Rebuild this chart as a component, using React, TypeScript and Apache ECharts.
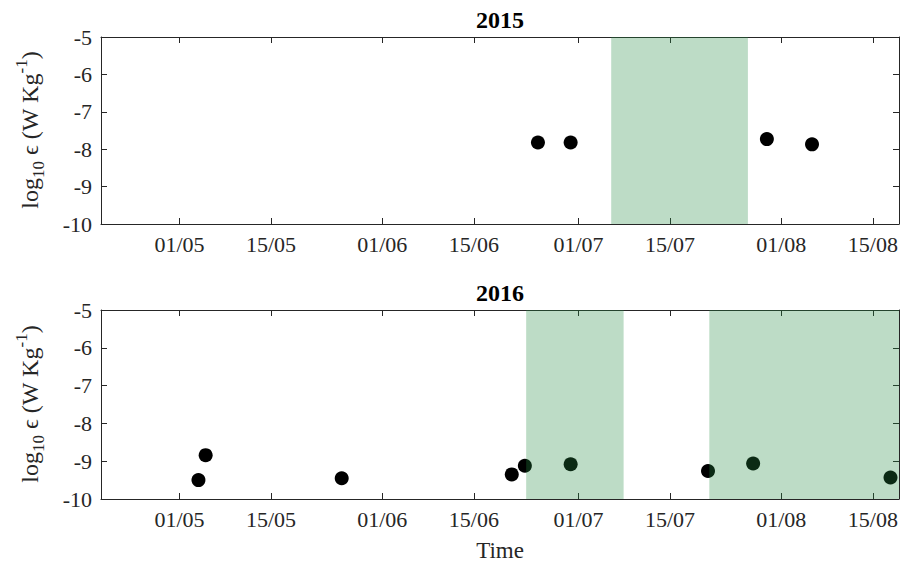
import React, { useEffect, useRef } from "react";
import * as echarts from "echarts";

// x values: days since 1 May of the given year
const xTickLabels = ["01/05", "15/05", "01/06", "15/06", "01/07", "15/07", "01/08", "15/08"];
const yTicks = [-10, -9, -8, -7, -6, -5];

const x2015 = [54.8, 59.8, 89.8, 96.7];
const y2015 = [-7.82, -7.82, -7.73, -7.87];
const shade2015 = [[66.0, 86.9]];

const x2016 = [2.9, 4.0, 24.8, 50.8, 52.8, 59.8, 80.8, 87.7, 108.7];
const y2016 = [-9.5, -8.84, -9.45, -9.35, -9.12, -9.08, -9.26, -9.06, -9.43];
const shade2016 = [[53.0, 67.9], [81.0, 112]];

const X_MIN = -12;
const X_MAX = 110;

const monthStart: Record<number, number> = { 5: 0, 6: 31, 7: 61, 8: 92 };
const labelToDay = (s: string) => {
  const [d, m] = s.split("/").map(Number);
  return monthStart[m] + d - 1;
};
const tickDays = xTickLabels.map(labelToDay);
const dayToLabel: Record<number, string> = {};
xTickLabels.forEach((l, i) => (dayToLabel[tickDays[i]] = l));

const FONT = '"Liberation Serif", "Times New Roman", serif';
const AX = "#262626";

export default function App() {
  const ref = useRef<HTMLDivElement>(null);
  useEffect(() => {
    if (!ref.current) return;
    const chart = echarts.init(ref.current, null, { renderer: "svg" });

    const grids = [
      { left: 101, top: 37, width: 798, height: 187 },
      { left: 101, top: 310, width: 798, height: 189 },
    ];

    const xAxes: any[] = [];
    const yAxes: any[] = [];
    grids.forEach((_, gi) => {
      ["bottom", "top"].forEach((pos) => {
        xAxes.push({
          type: "value",
          gridIndex: gi,
          position: pos,
          min: X_MIN,
          max: X_MAX,
          splitLine: { show: false },
          axisLine: { show: true, onZero: false, lineStyle: { color: AX, width: 1 } },
          axisTick: {
            show: true,
            inside: true,
            length: 6,
            customValues: tickDays,
            lineStyle: { color: AX },
          },
          axisLabel: {
            show: pos === "bottom",
            customValues: tickDays,
            formatter: (v: number) => dayToLabel[Math.round(v)] ?? "",
            color: AX,
            fontFamily: FONT,
            fontSize: 22,
            margin: 9,
          },
          ...(gi === 1 && pos === "bottom"
            ? {
                name: "Time",
                nameLocation: "middle",
                nameGap: 40,
                nameTextStyle: { color: AX, fontFamily: FONT, fontSize: 23 },
              }
            : {}),
        });
      });
      ["left", "right"].forEach((pos) => {
        yAxes.push({
          type: "value",
          gridIndex: gi,
          position: pos,
          min: -10,
          max: -5,
          interval: 1,
          splitLine: { show: false },
          axisLine: { show: true, onZero: false, lineStyle: { color: AX, width: 1 } },
          axisTick: { show: true, inside: true, length: 6, lineStyle: { color: AX } },
          axisLabel: {
            show: pos === "left",
            color: AX,
            fontFamily: FONT,
            fontSize: 22,
            margin: 9,
            formatter: (v: number) => (yTicks.includes(v) ? String(v) : ""),
          },
        });
      });
    });

    const shadeSeries = (data: number[][], gi: number) => ({
      type: "custom",
      xAxisIndex: gi * 2,
      yAxisIndex: gi * 2,
      z: 5,
      clip: true,
      silent: true,
      data,
      encode: { x: [0, 1] },
      renderItem: (params: any, api: any) => {
        const s = api.value(0);
        const e = api.value(1);
        const p1 = api.coord([s, -5]);
        const p2 = api.coord([e, -10]);
        const cs = params.coordSys;
        const shape = echarts.graphic.clipRectByRect(
          { x: p1[0], y: p1[1], width: p2[0] - p1[0], height: p2[1] - p1[1] },
          { x: cs.x, y: cs.y, width: cs.width, height: cs.height }
        );
        return shape
          ? { type: "rect", shape, style: { fill: "rgba(36,139,66,0.3)" } }
          : null;
      },
    });

    const scatterSeries = (xs: number[], ys: number[], gi: number) => ({
      type: "scatter",
      xAxisIndex: gi * 2,
      yAxisIndex: gi * 2,
      z: 2,
      symbolSize: 14,
      itemStyle: { color: "#000", opacity: 1 },
      data: xs.map((x, i) => [x, ys[i]]),
    });

    const yLabel = (cy: number) => ({
      type: "text",
      x: 30,
      y: cy,
      rotation: Math.PI / 2,
      style: {
        text: "{a|log}{sub|10}{a| ϵ (W Kg}{sup|-1}{a|)}",
        align: "center",
        verticalAlign: "middle",
        fill: AX,
        rich: {
          a: { fontFamily: FONT, fontSize: 24, lineHeight: 34, fill: AX },
          sub: { fontFamily: FONT, fontSize: 17, lineHeight: 17, verticalAlign: "bottom", fill: AX },
          sup: { fontFamily: FONT, fontSize: 17, lineHeight: 17, verticalAlign: "top", fill: AX },
        },
      },
    });

    const title = (text: string, y: number) => ({
      type: "text",
      x: 500,
      y,
      style: {
        text,
        align: "center",
        verticalAlign: "middle",
        fill: "#000",
        font: `bold 24px ${FONT}`,
      },
    });

    chart.setOption({
      animation: false,
      backgroundColor: "#fff",
      grid: grids,
      xAxis: xAxes,
      yAxis: yAxes,
      series: [
        scatterSeries(x2015, y2015, 0),
        shadeSeries(shade2015, 0),
        scatterSeries(x2016, y2016, 1),
        shadeSeries(shade2016, 1),
      ],
      graphic: [
        title("2015", 20),
        title("2016", 293),
        yLabel(130),
        yLabel(404),
      ],
    });

    return () => chart.dispose();
  }, []);

  return (
    <div
      ref={ref}
      style={{ position: "fixed", left: 0, top: 0, width: 905, height: 563 }}
    />
  );
}
